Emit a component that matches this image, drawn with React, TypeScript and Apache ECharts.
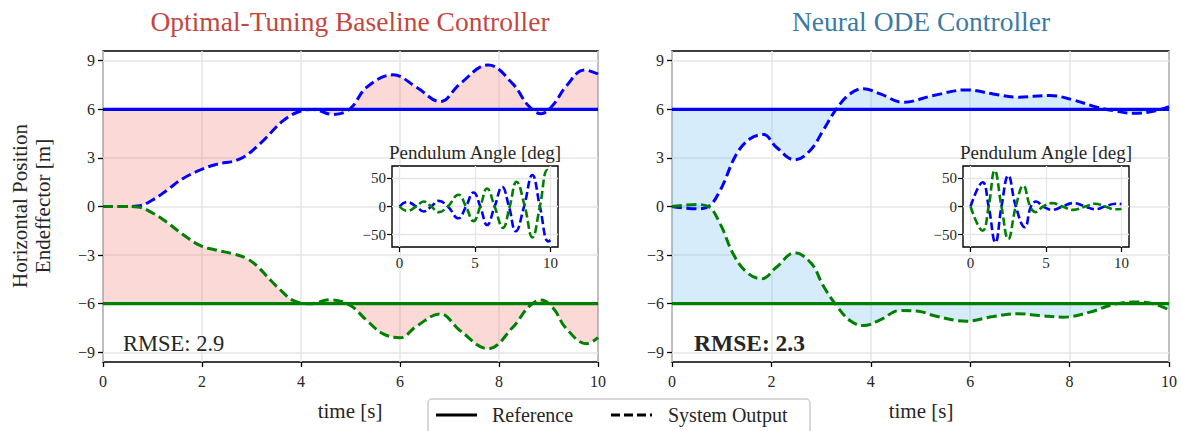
import React, { useEffect, useRef } from 'react';
import * as echarts from 'echarts';

// ---------- data ----------
const timeTicks = [0, 2, 4, 6, 8, 10];
const positionTicks = [-9, -6, -3, 0, 3, 6, 9];
const angleTimeTicks = [0, 5, 10];
const angleTicks = [-50, 0, 50];
const referenceUpper = 6;
const referenceLower = -6;
const timeSpan = [0, 10];

// Optimal-Tuning Baseline Controller: endeffector positions [t, m]
const baselineUpper = [
  [0, 0], [0.4, 0], [0.7, 0.03], [1.0, 0.4], [1.29, 1.0], [1.6, 1.7], [2.02, 2.33], [2.29, 2.6],
  [2.77, 2.94], [3.17, 3.87], [3.64, 5.3], [3.98, 5.88], [4.24, 5.99], [4.65, 5.68], [4.99, 6.03],
  [5.33, 7.37], [5.86, 8.13], [6.33, 7.37], [6.81, 6.48], [7.21, 7.57], [7.78, 8.74], [8.28, 7.57],
  [8.6, 6.2], [8.85, 5.73], [9.1, 6.3], [9.35, 7.4], [9.73, 8.43], [10, 8.18],
];
const baselineLower = [
  [0, 0], [0.4, 0], [0.7, -0.03], [1.0, -0.4], [1.29, -0.97], [1.6, -1.7], [1.96, -2.4], [2.3, -2.7],
  [2.63, -2.92], [2.9, -3.2], [3.1, -3.64], [3.4, -4.6], [3.6, -5.2], [3.84, -5.8], [4.18, -6.0],
  [4.59, -5.76], [4.99, -6.1], [5.33, -7.04], [5.66, -7.86], [6.0, -8.1], [6.33, -7.4], [6.81, -6.63],
  [7.21, -7.65], [7.78, -8.78], [8.28, -7.45], [8.6, -6.2], [8.85, -5.78], [9.1, -6.3], [9.35, -7.5],
  [9.77, -8.47], [10, -8.1],
];
// Neural ODE Controller: endeffector positions [t, m]
const neuralUpper = [
  [0, 0], [0.5, -0.14], [0.73, 0], [0.97, 1.0], [1.3, 3.25], [1.57, 4.18], [1.84, 4.44], [2.1, 3.66],
  [2.47, 2.88], [2.78, 3.46], [3.04, 4.69], [3.31, 6.03], [3.58, 6.95], [3.85, 7.27], [4.19, 6.95],
  [4.65, 6.44], [5.26, 6.85], [5.93, 7.2], [6.46, 6.95], [6.94, 6.75], [7.6, 6.85], [8.07, 6.58],
  [8.55, 6.13], [8.95, 5.88], [9.28, 5.76], [9.68, 5.88], [10, 6.17],
];
const neuralLower = [
  [0, 0], [0.5, 0.12], [0.73, 0], [0.97, -1.07], [1.23, -2.92], [1.5, -4.05], [1.8, -4.46], [2.1, -3.75],
  [2.47, -2.86], [2.81, -3.54], [3.04, -4.88], [3.31, -6.11], [3.58, -7.04], [3.85, -7.35], [4.19, -7.0],
  [4.59, -6.42], [4.96, -6.46], [5.26, -6.73], [5.93, -7.08], [6.46, -6.79], [6.94, -6.62], [7.4, -6.73],
  [7.87, -6.83], [8.41, -6.52], [8.88, -6.05], [9.28, -5.9], [9.68, -6.0], [10, -6.38],
];
// Pendulum angles [t, deg]
const baselineAngleA = [
  [0, 0], [0.5, 8], [1.1, 0], [1.6, -9], [2.1, 0], [2.6, 10], [3.2, 0], [3.9, -21], [4.4, 0], [4.9, 25],
  [5.35, 0], [5.8, -33], [6.3, 0], [6.8, 35], [7.25, 0], [7.7, -44], [8.25, 0], [8.8, 56], [9.3, 0],
  [9.85, -62], [10, -60],
];
const baselineAngleB = [
  [0, 0], [0.5, -8], [1.1, 0], [1.6, 9], [2.1, 0], [2.6, -10], [3.2, 0], [3.9, 21], [4.4, 0], [4.9, -26],
  [5.35, 0], [5.8, 32], [6.3, 0], [6.85, -38], [7.3, 0], [7.75, 44], [8.3, 0], [8.8, -55], [9.3, 0],
  [9.8, 65], [10, 60],
];
const neuralAngleA = [
  [0, 0], [0.8, 43], [1.2, 0], [1.65, -64], [2.05, 0], [2.5, 55], [3.0, 0], [3.6, -37], [4.0, 0],
  [4.35, 9], [4.8, 0], [5.4, -6], [6.1, 0], [6.8, 6], [7.6, 0], [8.25, -5], [8.9, 0], [9.6, 5], [10, 4.5],
];
const neuralAngleB = [
  [0, 0], [0.8, -43], [1.2, 0], [1.6, 64], [2.05, 0], [2.5, -58], [3.0, 0], [3.5, 37], [3.95, 0],
  [4.3, -10], [4.8, 0], [5.4, 6], [6.1, 0], [6.8, -6], [7.6, 0], [8.25, 5], [8.9, 0], [9.6, -5], [10, -4.5],
];
const rmseValues = ['2.9', '2.3'];

// ---------- styling ----------
const FONT = "'Liberation Serif', 'Times New Roman', serif";
const BLUE = '#0000ff';
const GREEN = '#008000';
const FILL_RED = 'rgba(240,110,95,0.26)';
const FILL_BLUE = 'rgba(95,180,235,0.26)';
const GRIDLINE = '#e6e6e6';
const TEXT = '#262626';

const fmt = (v: number) => (v < 0 ? '\u2212' + Math.abs(v) : String(v));

export default function App() {
  const ref = useRef<HTMLDivElement>(null);
  useEffect(() => {
    if (!ref.current) return;
    const chart = echarts.init(ref.current, undefined, { renderer: 'svg' });

    const mainGrid = (left: number, width: number) => ({
      left, top: 51, width, height: 311, show: true, borderColor: '#000', borderWidth: 1.4,
      backgroundColor: 'transparent', z: 0,
    });
    const insetGrid = (left: number) => ({
      left, top: 166, width: 166, height: 81, show: true, borderColor: '#000', borderWidth: 1.4,
      backgroundColor: '#fff', z: 5,
    });

    const mainX = (gi: number) => ({
      type: 'value', gridIndex: gi, min: timeSpan[0], max: timeSpan[1],
      axisLine: { show: false, onZero: false },
      axisTick: { show: true, length: 5, lineStyle: { color: '#000', width: 1.3 }, customValues: timeTicks },
      axisLabel: { color: TEXT, fontFamily: FONT, fontSize: 16, margin: 11, customValues: timeTicks, formatter: fmt },
      splitLine: { show: true, lineStyle: { color: GRIDLINE, width: 1.5 } },
    });
    const mainY = (gi: number) => ({
      type: 'value', gridIndex: gi, min: -9.6, max: 9.6,
      axisLine: { show: false, onZero: false },
      axisTick: { show: true, length: 5, lineStyle: { color: '#000', width: 1.3 }, customValues: positionTicks },
      axisLabel: { color: TEXT, fontFamily: FONT, fontSize: 16, margin: 8, customValues: positionTicks, formatter: fmt },
      splitLine: { show: true, lineStyle: { color: GRIDLINE, width: 1.5 } },
    });
    const insetX = (gi: number) => ({
      type: 'value', gridIndex: gi, min: -0.5, max: 10.5, z: 6,
      axisLine: { show: false, onZero: false },
      axisTick: { show: true, length: 5, lineStyle: { color: '#000', width: 1.2 }, customValues: angleTimeTicks },
      axisLabel: { color: TEXT, fontFamily: FONT, fontSize: 15, margin: 8, customValues: angleTimeTicks, formatter: fmt },
      splitLine: { show: true, lineStyle: { color: GRIDLINE, width: 1.3 } },
    });
    const insetY = (gi: number) => ({
      type: 'value', gridIndex: gi, min: -72, max: 72, z: 6,
      axisLine: { show: false, onZero: false },
      axisTick: { show: true, length: 5, lineStyle: { color: '#000', width: 1.2 }, customValues: angleTicks },
      axisLabel: { color: TEXT, fontFamily: FONT, fontSize: 15, margin: 6, customValues: angleTicks, formatter: fmt },
      splitLine: { show: true, lineStyle: { color: GRIDLINE, width: 1.3 } },
    });

    const output = (data: number[][], ai: number, color: string, origin: number, fill: string) => ({
      type: 'line', xAxisIndex: ai, yAxisIndex: ai, data, smooth: 0.4, symbol: 'none', z: 2,
      lineStyle: { color, width: 3, type: [10, 4.5] },
      areaStyle: { origin, color: fill, opacity: 1 },
      silent: true,
    });
    const reference = (value: number, ai: number, color: string) => ({
      type: 'line', xAxisIndex: ai, yAxisIndex: ai, symbol: 'none', z: 3,
      data: [[timeSpan[0], value], [timeSpan[1], value]],
      lineStyle: { color, width: 3.2 }, silent: true,
    });
    const angle = (data: number[][], ai: number, color: string) => ({
      type: 'line', xAxisIndex: ai, yAxisIndex: ai, data, smooth: 0.45, symbol: 'none', z: 8,
      lineStyle: { color, width: 2.6, type: [8, 3.5] }, silent: true,
    });

    const txt = (text: string, x: number, y: number, size: number, opts: any = {}) => ({
      type: 'text', x, y, rotation: opts.rotation || 0, z: 20,
      style: {
        text, fontFamily: FONT, fontSize: size, fill: opts.color || TEXT, fontWeight: opts.weight || 'normal',
        textAlign: opts.align || 'center', textVerticalAlign: 'middle',
      },
    });

    chart.setOption({
      animation: false,
      grid: [mainGrid(103, 495), mainGrid(672, 497), insetGrid(392), insetGrid(963)],
      xAxis: [mainX(0), mainX(1), insetX(2), insetX(3)],
      yAxis: [mainY(0), mainY(1), insetY(2), insetY(3)],
      series: [
        output(baselineUpper, 0, BLUE, referenceUpper, FILL_RED),
        output(baselineLower, 0, GREEN, referenceLower, FILL_RED),
        reference(referenceUpper, 0, BLUE),
        reference(referenceLower, 0, GREEN),
        output(neuralUpper, 1, BLUE, referenceUpper, FILL_BLUE),
        output(neuralLower, 1, GREEN, referenceLower, FILL_BLUE),
        reference(referenceUpper, 1, BLUE),
        reference(referenceLower, 1, GREEN),
        angle(baselineAngleA, 2, BLUE),
        angle(baselineAngleB, 2, GREEN),
        angle(neuralAngleA, 3, BLUE),
        angle(neuralAngleB, 3, GREEN),
      ],
      graphic: [
        txt('Optimal-Tuning Baseline Controller', 350, 21, 27.5, { color: '#c4473f' }),
        txt('Neural ODE Controller', 921, 21, 27.5, { color: '#3a7aa5' }),
        txt('Pendulum Angle [deg]', 475, 152, 19),
        txt('Pendulum Angle [deg]', 1046, 152, 19),
        txt('time [s]', 350, 411, 21),
        txt('time [s]', 921, 411, 21),
        txt('Horizontal Position', 20, 206, 21, { rotation: Math.PI / 2 }),
        txt('Endeffector [m]', 43, 206, 21, { rotation: Math.PI / 2 }),
        txt('RMSE: ' + rmseValues[0], 123, 343, 22.5, { align: 'left' }),
        txt('RMSE: ' + rmseValues[1], 694, 343, 23.5, { align: 'left', weight: 'bold' }),
        {
          type: 'rect', z: 15,
          shape: { x: 428, y: 399, width: 382, height: 42, r: 4 },
          style: { fill: '#fff', stroke: '#cccccc', lineWidth: 1.5 },
        },
        { type: 'line', z: 16, shape: { x1: 436, y1: 415, x2: 477, y2: 415 }, style: { stroke: '#000', lineWidth: 3 } },
        txt('Reference', 492, 415, 20, { align: 'left' }),
        { type: 'line', z: 16, shape: { x1: 611, y1: 415, x2: 652, y2: 415 }, style: { stroke: '#000', lineWidth: 3, lineDash: [9, 4] } },
        txt('System Output', 668, 415, 20, { align: 'left' }),
      ],
    });
    return () => chart.dispose();
  }, []);
  return <div ref={ref} style={{ position: 'fixed', left: 0, top: 0, width: 1181, height: 431, background: '#fff' }} />;
}
